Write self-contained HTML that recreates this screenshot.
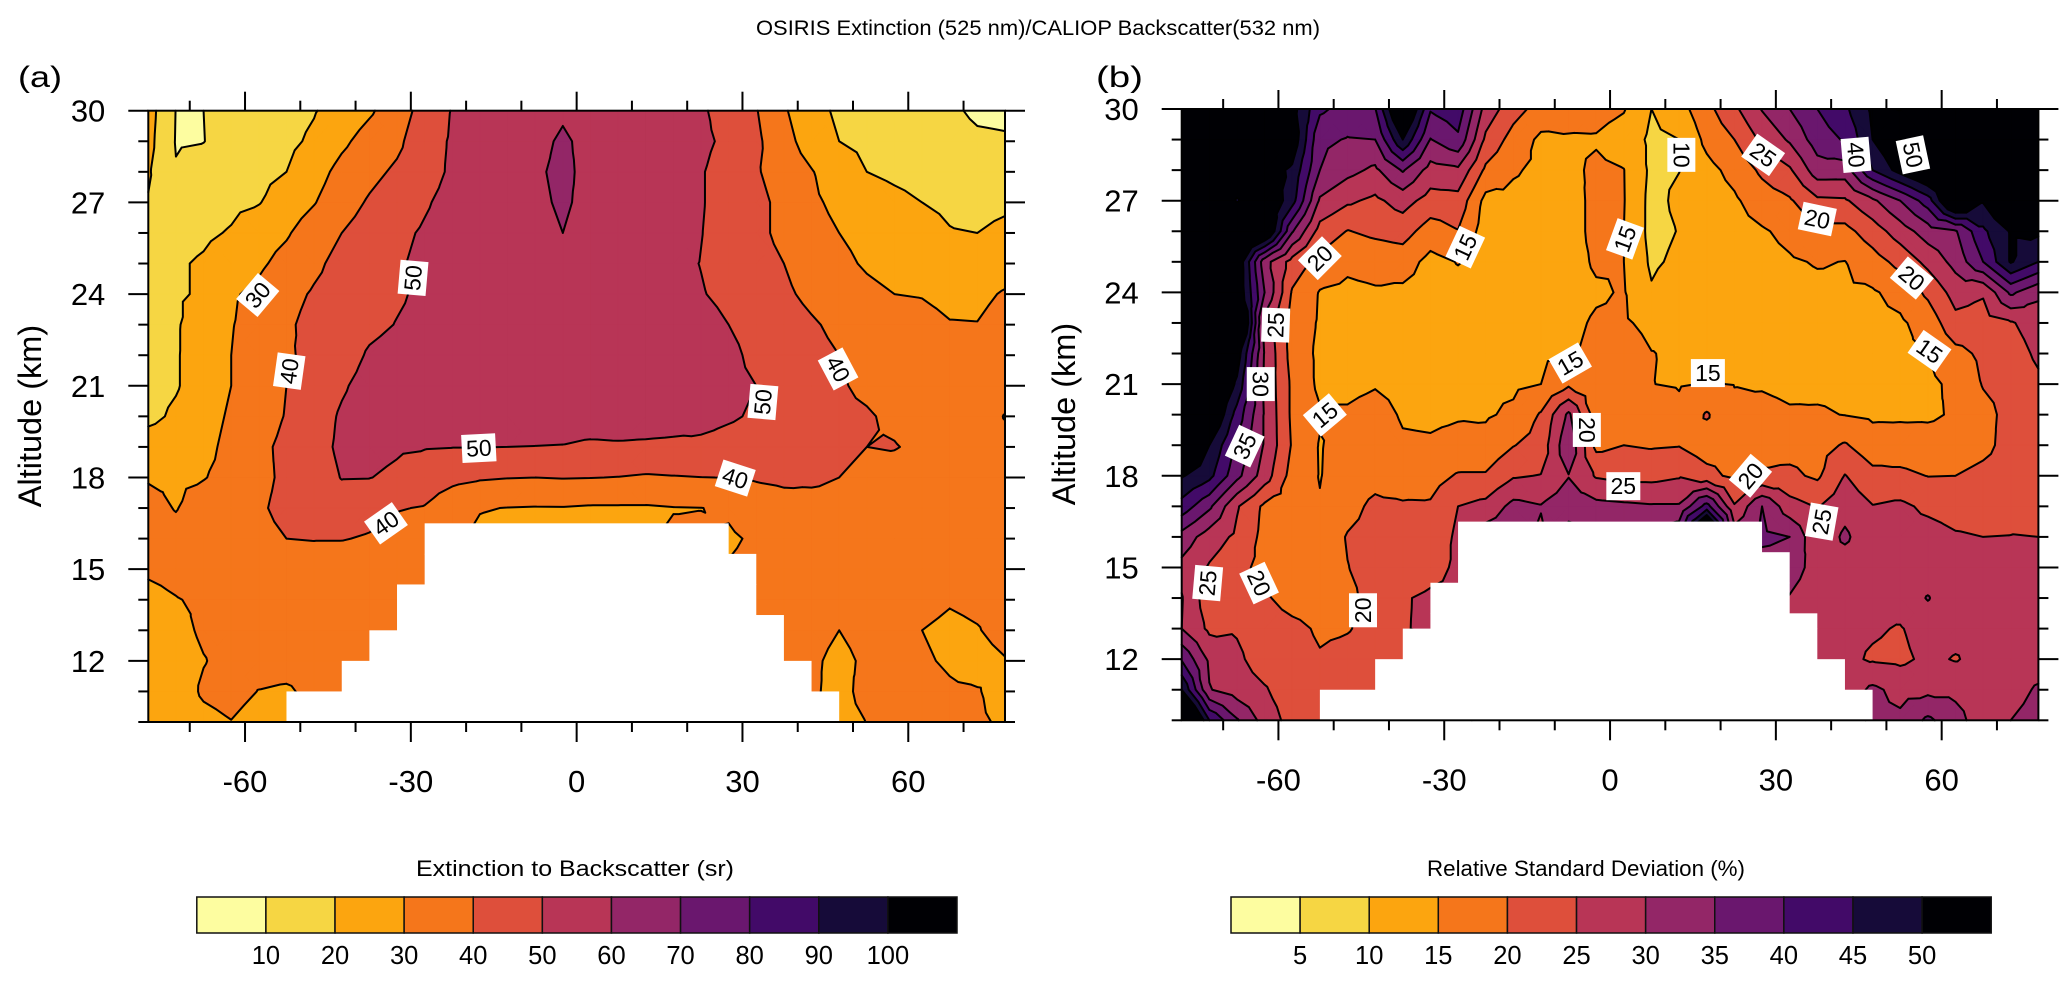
<!DOCTYPE html>
<html lang="en">
<head>
<meta charset="utf-8">
<title>OSIRIS Extinction / CALIOP Backscatter</title>
<style>
html,body{margin:0;padding:0;background:#fff;width:2067px;height:982px;overflow:hidden}
svg{display:block}
text{font-family:"Liberation Sans",sans-serif;fill:#000}
</style>
</head>
<body>
<svg id="figure" xmlns="http://www.w3.org/2000/svg" width="2067" height="982" viewBox="0 0 2067 982">
<text x="1038" y="35" font-size="21.5" text-anchor="middle" textLength="564" lengthAdjust="spacingAndGlyphs">OSIRIS Extinction (525 nm)/CALIOP Backscatter(532 nm)</text>
<text x="18" y="87" font-size="30" textLength="44" lengthAdjust="spacingAndGlyphs">(a)</text>
<text x="1096" y="87" font-size="30" textLength="47" lengthAdjust="spacingAndGlyphs">(b)</text>
<text transform="translate(41 416) rotate(-90)" font-size="32.5" text-anchor="middle">Altitude (km)</text>
<text transform="translate(1075 414) rotate(-90)" font-size="32.5" text-anchor="middle">Altitude (km)</text>
<text x="575" y="876" font-size="22" text-anchor="middle" textLength="318" lengthAdjust="spacingAndGlyphs">Extinction to Backscatter (sr)</text>
<text x="1586" y="876" font-size="22" text-anchor="middle" textLength="318" lengthAdjust="spacingAndGlyphs">Relative Standard Deviation (%)</text>
</svg>
<script>
// ---- shared axes ----
const latitudes = [-77.5,-72.5,-67.5,-62.5,-57.5,-52.5,-47.5,-42.5,-37.5,-32.5,-27.5,-22.5,-17.5,-12.5,-7.5,-2.5,2.5,7.5,12.5,17.5,22.5,27.5,32.5,37.5,42.5,47.5,52.5,57.5,62.5,67.5,72.5,77.5];
const altitudes = [30,29,28,27,26,25,24,23,22,21,20,19,18,17,16,15,14,13,12,11,10];
const xMajorTicks = [-60,-30,0,30,60];
const xMinorTicks = [-70,-50,-40,-20,-10,10,20,40,50,70];
const yMajorTicks = [30,27,24,21,18,15,12];
const yMinorTicks = [29,28,26,25,23,22,20,19,17,16,14,13,11,10];
const bandColors = ['#fdfda0','#f6d643','#fca50f','#f5761b','#de4f3b','#b83556','#932667','#6a176e','#420a68','#160b39','#000004'];

// ---- missing-data region (altitude and latitude limits) ----
const missingAltLow = [10,11,12,13,13.5,14.5,15.5];
const missingAltHigh = [11,12,13,13.5,14.5,15.5,16.5];
const missingLatLeft = [-52.5,-42.5,-37.5,-32.5,-32.5,-27.5,-27.5];
const missingLatRight = [47.5,42.5,37.5,37.5,32.5,32.5,27.5];

// ---- panel (a): extinction to backscatter, sr ----
const levelsA = [10,20,30,40,50,60,70,80,90,100];
const extinctionRows = [
[24,9.8,10,13,15,17,19.5,23.5,28.6,35.5,43.5,50.5,53,54,56,59,56,55,54,53,51,47,40.5,31,24,18,16.5,15,13.5,11.5,8.5,8],
[23,9.5,9.85,13,15,18,21.5,28,34,38,46,51,53.5,55,58,61,58,56,55,54,51.5,48.5,42,33,26,20,18,16,15,13.5,11.5,11],
[21,10.5,13,15,17.5,20,26,33,37.5,41.5,46,51.5,53,55,59,61.5,58,56,55,54,50.5,47,41,35,30.5,25,20,18,16.5,15,14,13],
[19.5,14,16,18,19.5,25,29.5,36,41,45,49,53,55,56,58.5,61,58,56,55,54,50.5,47,43,37,31.5,28,25,22.5,20,19,18,18.8],
[19,17,18.5,20.7,26,29,35,40,44,48,51,54,55,56,57.5,60,57,56,55,54,50.2,47,42,38,33,30,27.5,24,22,20.3,20,21.5],
[18,19,21,25,28.5,33,38,43,46,49,52,54,55,56,56.5,57,56,56,55,52,49.8,47,43,40,36,32,29,27,25,24,23,25],
[18,19,21,29,32,37,41,44,47,49,51.5,54,55,56,56,56,56,55,54,53,50.5,48,45,41.5,38,35,32,30,29.5,27.5,27.5,31],
[17,19,25,29.5,34,38.5,43,45,48,50.3,52,54,55,56,56,56,56,55.5,55,54,53,50,47,44,41,38,36,34,33,30.5,30.3,34],
[17,19,26,30,35,39,42,46,51,53,54,55,56,56,56,56,56,56,56,55,54,52,48,45,42.5,40,37,35,34,33,33,34],
[16,19,26,30,35,40,45,49,53,55,56,56,56,56,56,56,56,56,56,56,54,52,50,47,44,41,38,35,34,33,33,33],
[17,22,27,31,36,40.5,46,51,54,56,56,56,56,56,56,56,56,56,56,55,53,51,49,46,44,42,41,38,35,33,33,40.6],
[26,27,28,32,38,42,47,51.5,52.5,51,50.5,50.2,50.2,50,49.8,49.5,48,48.5,48,47.5,48,47,46,45,44,42,40,40.5,38,36,35,36],
[29.5,29,29.7,32,38,41.5,46,50.3,50.2,48.5,45,42.5,41,40.3,40,40.4,40.2,39.8,39,39.5,39.9,40.1,41,42,41.5,40,38,36,34,33,33,33],
[32,29.7,33,35,39,42,45,46,44,40.5,39.5,34,30.5,29.8,29.5,29.6,29,29,29,29.7,29.9,31,34,36,37,37,36,35,34,33,33,33],
[33,32,34,36,38,40,40.5,40.5,39,37,35,32,28,27,26,26,26,27,28,31.2,31,29,31,33,34,34,34,34,34,33,33,33],
[31,32,34,34,34,34,34,33,33,33,33,30,30,30,30,30,30,30,30,30,30,30.5,32,33,34,34,34,34,34,33,33,33],
[28,29.7,31,32,33,33,33,33,33,33,33,30,30,30,30,30,30,30,30,30,30,30,33,33,33,33,33,33,33,30.8,32,33],
[27,28,31,32,33,33,33,33,33,33,30,30,30,30,30,30,30,30,30,30,30,30,32,33,32,30,32,32,30,28,29.5,33],
[25,27,29.7,32,33,33,33,33,30,30,30,30,30,30,30,30,30,30,30,30,30,30,30,32,31,28.5,31,33,31,29,27,29.5],
[24,26,31,32.5,29.8,29,32,32,30,30,30,30,30,30,30,30,30,30,30,30,30,30,30,32,31,28,32,33,33,31,30.5,27],
[24,26,28,29.8,27,26,30,30,30,30,30,30,30,30,30,30,30,30,30,30,30,30,30,31,31,28,30.1,31,32,32,31,29]
];
const contourValuesA = ['30','40','50','40','50','50','40','40'];
const contourLatsA = [-57.7,-52,-29.6,-34.5,-17.7,33.7,28.7,47.3];
const contourAltsA = [23.97,21.48,24.53,16.5,18.96,20.47,17.98,21.55];
const contourAnglesA = [-50,-82,-85,-35,-3,-85,18,62];

// ---- panel (b): relative standard deviation, % ----
const levelsB = [5,10,15,20,25,30,35,40,45,50];
const deviationRows = [
[60,60,60,58,52,41,38,39.7,60,40.5,43,28,22,18,17,16.5,15.3,10,13,18.5,24,30.3,35,40,44,51,49.8,55,60,60,60,60],
[60,60,60,60,54,36,34.7,35,50,34.8,39,24,18,14,14.5,14.6,13,9,10,16.3,20,26,30.7,37.5,40.5,50,56,60,60,60,60,60],
[55,54,55,53,49,35,31.5,29,35.5,28,29,19,15.5,14,14,15.8,15.1,9,9.9,13.5,16.5,21,24.3,32.7,32.5,45,52,58,60,60,60,60],
[60,60,49.5,56,47,29.3,25.8,24,27,23,23.2,13.5,13.8,13.5,13.5,16,15.2,8.5,11,12.5,14.3,17.5,19.4,24,24.3,29,35,42.5,60,50.5,60,60],
[60,60,60,58,35.5,23,19.8,21.1,22,17.7,19.8,12.5,13,13.2,13.5,16,15,8.5,10.2,12.5,13.5,14.5,16.2,18.6,18.5,22.5,27.5,32.5,34.5,44,50.5,51],
[60,60,55,32,23,18.3,16,16.7,17.3,13.5,15.2,13,13,13.3,13.5,15.5,15,9.2,11,13,12,13.5,14.5,15.3,14.9,17.9,21.5,26.4,31.7,40,50.5,45],
[60,60,55,35,19.5,14.7,14,14.5,14,13,13.5,13,13,13.2,13.4,14.5,15.3,10.5,13,13.5,11,13.3,13.5,14,14.3,14.5,16.5,21,27,25.5,36,31],
[60,60,65,28,17.9,14.5,13.5,13.8,14,13.5,13.5,13.5,13.5,14,14,15.5,15.5,14,14.3,14,14,13.8,13.3,13.8,14,14,14.3,17,23.5,23,24.5,27.5],
[60,60,53,29.5,18,14,13.7,13.7,13.8,13.5,14,14,14,14.3,14.5,16,17,15.1,14.5,14.2,14.3,14,13.5,14,14,14,14,15,18.5,21,22.5,26],
[60,60,49,29,19,14,14,14.7,14,14,14.5,14.3,14.2,15,19,16.5,18,15.05,14.7,15.2,14.9,14.6,14,14.2,14.2,14,14,14,16,20.3,21.5,24],
[60,58,43,29.5,19,15.5,15.5,16.5,14.6,14.4,14.7,14.5,15.8,20.5,31,17.3,19,18,16,20.5,15.8,16.3,15.5,15.4,14.9,14.3,14.2,14.3,15.5,18.5,21.5,23.5],
[60,50,39,29.5,19.5,14.7,17,17.2,15.5,15.4,16,16.5,19.8,22,34,18.7,20,19.5,19.8,17.5,18,18.5,18.3,18.2,20.5,17,17.5,17,17,18.5,22,23],
[50.5,46.5,36.5,27.5,18,14.8,17.5,18.5,17,18,20.5,20.5,24.5,25.2,29.8,24.5,23.5,23.5,24.5,21.6,18.8,20.5,21,19.2,25.2,21.5,21,19.9,20,21.5,22.5,23.5],
[43,36,25.5,19,17.5,15.3,18.5,21,20.7,20.6,25,26.5,31.5,30.3,33,31.5,31,30.5,30.5,42,25.5,35,27,24.7,28,25.2,26,24,23,23,23.5,24.5],
[33,27.5,24,18.5,17,17,20.3,21.5,21,21.5,26,33,34,29,37,36,36,35,40,70,33,36,35,26,31,26,27,27,25.5,25,25.1,25],
[28.5,24.5,21.5,18.5,17,17,19.9,21.5,21,23,26,30,30,30,30,30,30,30,30,30,33,33,33,27.5,27,26.5,27,27,26.5,26,26,25.5],
[30.3,22,21.5,20.5,18.5,18,19,21.5,24.5,26,26,28,28,28,28,28,28,28,28,28,28,33,29.6,26,26,26,27,30.3,26.5,26,26,26],
[30,24,24.5,22,21,19.5,19.8,21,24.6,26,26,28,28,28,28,28,28,28,28,28,28,28,28,26,26,25.5,24.7,27,26.5,26,26,25],
[39.5,29,26,22.5,21.5,20.3,21,21.5,22,22,22,28,28,28,28,28,28,28,28,28,28,28,28,26,26,24.5,24,26,24.7,26.5,26,26],
[50,30.3,27.5,25.5,22,21.5,22,22,22,22,22,28,28,28,28,28,28,28,28,28,28,28,28,26,27,31,28.5,28.7,28.7,27,27,31],
[70,45,35.5,28,23,21.5,22,22,22,22,22,28,28,28,28,28,28,28,28,28,28,28,28,26,27,31,31,36,32,27,30,33]
];
const contourValuesB = ['25','20','15','30','35','15','15','20','25','20','20','10','25','40','50','20','20','15','15','25','20','25','15'];
const contourLatsB = [-60.5,-52.5,-26.2,-63.2,-66.1,-51.6,-7.2,-4.2,-72.8,-63.5,-44.7,12.9,27.7,44.5,54.8,37.5,54.6,57.8,17.7,2.4,25.4,38.3,2.7];
const contourAltsB = [22.93,25.12,25.48,21,18.97,19.99,21.69,19.5,14.49,14.49,13.6,28.5,28.5,28.5,28.5,26.4,24.47,22.08,21.36,17.66,18,16.5,25.75];
const contourAnglesB = [-88,-45,-65,90,-65,-40,-30,90,-85,65,-90,90,35,85,78,12,40,35,0,0,-50,-80,-70];

// ---- colorbar tick labels ----
const colorbarTicksA = ['10','20','30','40','50','60','70','80','90','100'];
const colorbarTicksB = ['5','10','15','20','25','30','35','40','45','50'];

const SVG_NS = 'http://www.w3.org/2000/svg';
const figure = document.getElementById('figure');
const BLACK = '#000';

function make(tag, attrs, parent) {
  const el = document.createElementNS(SVG_NS, tag);
  for (const k in attrs) el.setAttribute(k, attrs[k]);
  (parent || figure).appendChild(el);
  return el;
}

function xScale(panel, lat) {
  return panel.left + (lat - latitudes[0]) / (latitudes[latitudes.length - 1] - latitudes[0]) * panel.width;
}
function yScale(panel, alt) {
  return panel.top + (altitudes[0] - alt) / (altitudes[0] - altitudes[altitudes.length - 1]) * panel.height;
}

function clipTriangle(tri, level) {
  const out = [];
  for (let i = 0; i < 3; i++) {
    const a = tri[i], b = tri[(i + 1) % 3];
    if (a[2] >= level) out.push(a);
    if ((a[2] >= level) !== (b[2] >= level)) {
      const t = (level - a[2]) / (b[2] - a[2]);
      out.push([a[0] + (b[0] - a[0]) * t, a[1] + (b[1] - a[1]) * t, level]);
    }
  }
  return out;
}

function crossing(tri, level) {
  const pts = [];
  for (let i = 0; i < 3; i++) {
    const a = tri[i], b = tri[(i + 1) % 3];
    if ((a[2] >= level) !== (b[2] >= level)) {
      const t = (level - a[2]) / (b[2] - a[2]);
      pts.push([a[0] + (b[0] - a[0]) * t, a[1] + (b[1] - a[1]) * t]);
    }
  }
  return pts;
}

function polygonPath(points) {
  return 'M' + points.map(p => p[0].toFixed(2) + ' ' + p[1].toFixed(2)).join('L') + 'Z';
}

function drawContours(panel, rows, levels) {
  const group = make('g', {});
  
  

  const base = make('rect', { x: panel.left, y: panel.top, width: panel.width, height: panel.height, fill: bandColors[0] }, group);
  
  

  const lineParts = [];
  levels.forEach((level, k) => {
    let fillPath = '';
    let linePath = '';
    for (let r = 0; r < rows.length - 1; r++) {
      for (let c = 0; c < latitudes.length - 1; c++) {
        const x0 = xScale(panel, latitudes[c]), x1 = xScale(panel, latitudes[c + 1]);
        const y0 = yScale(panel, altitudes[r]), y1 = yScale(panel, altitudes[r + 1]);
        const corners = [
          [x0, y0, rows[r][c]],
          [x1, y0, rows[r][c + 1]],
          [x1, y1, rows[r + 1][c + 1]],
          [x0, y1, rows[r + 1][c]]
        ];
        const mean = (corners[0][2] + corners[1][2] + corners[2][2] + corners[3][2]) / 4;
        if (corners.every(p => p[2] >= level)) {
          fillPath += polygonPath(corners);
          continue;
        }
        if (corners.every(p => p[2] < level)) continue;
        const centre = [(x0 + x1) / 2, (y0 + y1) / 2, mean];
        for (let s = 0; s < 4; s++) {
          const tri = [corners[s], corners[(s + 1) % 4], centre];
          const poly = clipTriangle(tri, level);
          if (poly.length > 2) fillPath += polygonPath(poly);
          const seg = crossing(tri, level);
          if (seg.length === 2) {
            linePath += 'M' + seg[0][0].toFixed(2) + ' ' + seg[0][1].toFixed(2) + 'L' + seg[1][0].toFixed(2) + ' ' + seg[1][1].toFixed(2);
          }
        }
      }
    }
    if (fillPath) {
      const band = make('path', { d: fillPath, fill: bandColors[k + 1], stroke: bandColors[k + 1], 'stroke-width': 0.5 }, group);
      
      
    }
    if (linePath) lineParts.push([level, linePath]);
  });
  lineParts.forEach(part => {
    const line = make('path', { d: part[1], fill: 'none', stroke: BLACK, 'stroke-width': 2, 'stroke-linecap': 'round' }, group);
    
    
  });
}

function drawMissing(panel) {
  missingAltLow.forEach((low, i) => {
    const xa = xScale(panel, missingLatLeft[i]);
    const xb = xScale(panel, missingLatRight[i]);
    const yTop = yScale(panel, missingAltHigh[i]);
    const yBottom = yScale(panel, low);
    const cell = make('rect', { x: xa, y: yTop, width: xb - xa, height: yBottom - yTop + 0.5, fill: '#fff' });
    
    
  });
}

function drawContourLabels(panel, values, lats, alts, angles) {
  values.forEach((value, i) => {
    const g = make('g', { transform: 'translate(' + xScale(panel, lats[i]) + ' ' + yScale(panel, alts[i]) + ') rotate(' + angles[i] + ')' });
    
    
    make('rect', { x: -17, y: -14, width: 34, height: 28, fill: '#fff' }, g);
    const t = make('text', { x: 0, y: 8, 'font-size': 23, 'text-anchor': 'middle' }, g);
    t.textContent = value;
  });
}

function drawAxes(panel) {
  const g = make('g', {});
  
  
  const right = panel.left + panel.width;
  const bottom = panel.top + panel.height;
  const tick = (x1, y1, x2, y2) => make('line', { x1, y1, x2, y2, stroke: BLACK, 'stroke-width': 2 }, g);

  xMajorTicks.forEach(v => {
    const x = xScale(panel, v);
    tick(x, panel.top, x, panel.top - 19);
    tick(x, bottom, x, bottom + 20);
    const t = make('text', { x, y: bottom + 70, 'font-size': 31, 'text-anchor': 'middle' }, g);
    
    
    t.textContent = String(v);
  });
  xMinorTicks.forEach(v => {
    const x = xScale(panel, v);
    tick(x, panel.top, x, panel.top - 10);
    tick(x, bottom, x, bottom + 10);
  });
  yMajorTicks.forEach(v => {
    const y = yScale(panel, v);
    tick(panel.left, y, panel.left - 20, y);
    tick(right, y, right + 20, y);
    const t = make('text', { x: panel.left - 43, y: y + 11, 'font-size': 31, 'text-anchor': 'end' }, g);
    
    
    t.textContent = String(v);
  });
  yMinorTicks.forEach(v => {
    const y = yScale(panel, v);
    tick(panel.left, y, panel.left - 10, y);
    tick(right, y, right + 10, y);
  });
  const frame = make('rect', { x: panel.left, y: panel.top, width: panel.width, height: panel.height, fill: 'none', stroke: BLACK, 'stroke-width': 2 }, g);
  
  
}

function drawColorbar(id, left, width, ticks) {
  const g = make('g', {});
  
  
  const top = 897, height = 36;
  const step = width / bandColors.length;
  bandColors.forEach((color, i) => {
    const box = make('rect', { x: left + i * step, y: top, width: step, height, fill: color, stroke: '#111', 'stroke-width': 1.5 }, g);
    
    
  });
  ticks.forEach((label, i) => {
    const t = make('text', { x: left + (i + 1) * step, y: 964, 'font-size': 25.5, 'text-anchor': 'middle' }, g);
    
    
    t.textContent = label;
  });
}

const panelA = { id: 'panel-a', left: 148.3, top: 110.7, width: 856.7, height: 611.3 };
const panelB = { id: 'panel-b', left: 1181.7, top: 109, width: 856.7, height: 611.3 };

drawContours(panelA, extinctionRows, levelsA);
drawMissing(panelA);
drawContourLabels(panelA, contourValuesA, contourLatsA, contourAltsA, contourAnglesA);
drawAxes(panelA);

drawContours(panelB, deviationRows, levelsB);
drawMissing(panelB);
drawContourLabels(panelB, contourValuesB, contourLatsB, contourAltsB, contourAnglesB);
drawAxes(panelB);

drawColorbar('panel-a', 196.8, 760.2, colorbarTicksA);
drawColorbar('panel-b', 1231, 760.2, colorbarTicksB);
</script>
</body>
</html>
